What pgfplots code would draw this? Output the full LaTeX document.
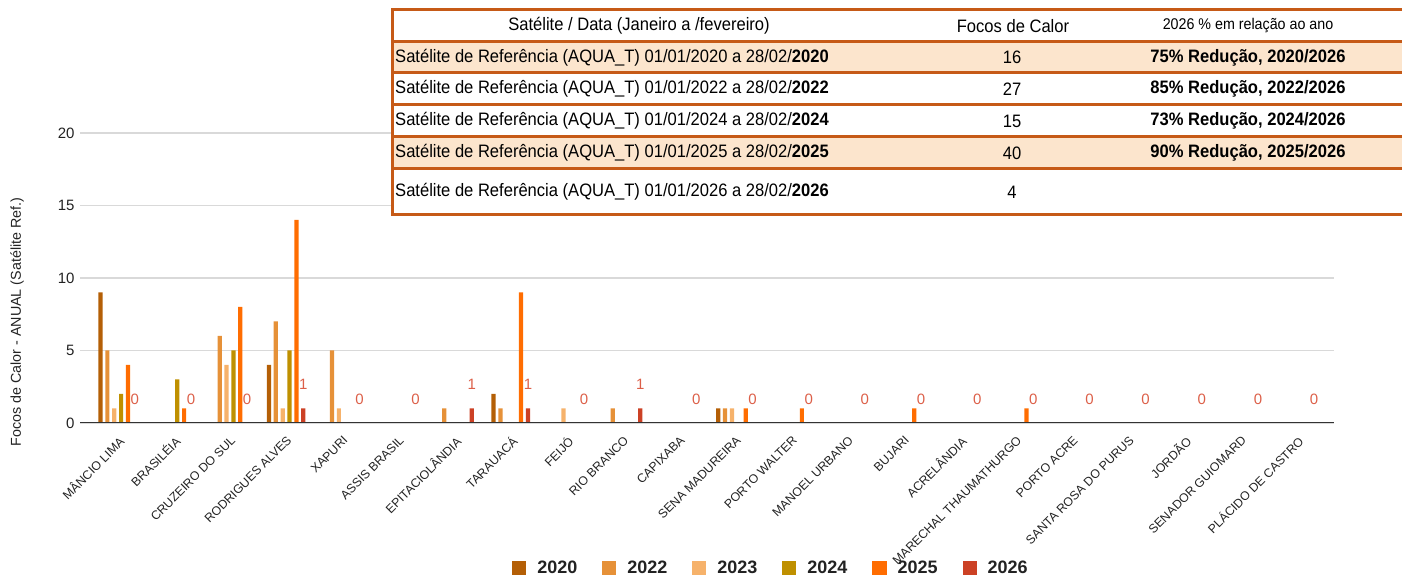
\documentclass[border=0pt]{standalone}
\usepackage{fontspec}
\setmainfont{Liberation Sans}
\newfontfamily\condfont[FakeStretch=0.92]{Liberation Sans}
\usepackage{pgfplots}
\pgfplotsset{compat=1.18}
\usepackage{pgfplotstable}

\definecolor{c20}{HTML}{B45F06}
\definecolor{c22}{HTML}{E69138}
\definecolor{c23}{HTML}{F6B26B}
\definecolor{c24}{HTML}{BF9000}
\definecolor{c25}{HTML}{FF6D01}
\definecolor{c26}{HTML}{CC4125}
\definecolor{lblred}{HTML}{DC5F48}
\definecolor{gridgray}{HTML}{D9D9D9}
\definecolor{axisgray}{HTML}{333333}
\definecolor{border}{HTML}{C65A17}
\definecolor{peach}{HTML}{FCE5CD}
\definecolor{txt}{HTML}{222222}

\pgfplotstableread{
x c20 c22 c23 c24 c25 c26
0 9 5 1 2 4 0
1 0 0 0 3 1 0
2 0 6 4 5 8 0
3 4 7 1 5 14 1
4 0 5 1 0 0 0
5 0 0 0 0 0 0
6 0 1 0 0 0 1
7 2 1 0 0 9 1
8 0 0 1 0 0 0
9 0 1 0 0 0 1
10 0 0 0 0 0 0
11 1 1 1 0 1 0
12 0 0 0 0 1 0
13 0 0 0 0 0 0
14 0 0 0 0 1 0
15 0 0 0 0 0 0
16 0 0 0 0 1 0
17 0 0 0 0 0 0
18 0 0 0 0 0 0
19 0 0 0 0 0 0
20 0 0 0 0 0 0
21 0 0 0 0 0 0
}\data

\begin{document}
\begin{tikzpicture}
\useasboundingbox (0pt,0pt) rectangle (1402pt,577pt);
\begin{axis}[
  at={(80pt,154pt)}, anchor=south west,
  scale only axis, width=1254pt, height=290pt,
  ymin=0, ymax=20, xmin=-0.671, xmax=21.66,
  ybar=2.67pt, bar width=4.2pt,
  ytick={0,5,10,15,20},
  ymajorgrids, grid style={color=gridgray, line width=1.2pt},
  axis line style={draw=none},
  major tick length=0pt,
  /pgf/number format/assume math mode=true,
  xtick={0,...,21},
  xticklabels={MÂNCIO LIMA,BRASILÉIA,CRUZEIRO DO SUL,RODRIGUES ALVES,XAPURI,ASSIS BRASIL,EPITACIOLÂNDIA,TARAUACÁ,FEIJÓ,RIO BRANCO,CAPIXABA,SENA MADUREIRA,PORTO WALTER,MANOEL URBANO,BUJARI,ACRELÂNDIA,MARECHAL THAUMATHURGO,PORTO ACRE,SANTA ROSA DO PURUS,JORDÃO,SENADOR GUIOMARD,PLÁCIDO DE CASTRO},
  xticklabel style={xshift=0pt, yshift=-12pt, rotate=45, anchor=north east, inner sep=0pt, font=\fontsize{12.3}{12.3}\selectfont, text=txt},
  yticklabel style={xshift=-2pt, font=\fontsize{15}{15}\selectfont, text=txt},
  ylabel={Focos de Calor - ANUAL (Satélite Ref.)},
  every axis y label/.style={at={(axis description cs:-0.0502,0.348)}, rotate=90, anchor=center, font=\fontsize{14.3}{14.3}\selectfont, text=txt},
  legend columns=-1,
  legend image code/.code={\fill[#1] (0pt,-7pt) rectangle (14pt,7pt);},
  legend style={draw=none, fill=none, at={(axis description cs:0.551,-0.5)}, anchor=center,
    font=\bfseries\fontsize{18}{18}\selectfont, text=txt,
    /tikz/every odd column/.append style={column sep=9pt},
    /tikz/every even column/.append style={column sep=23pt}},
]
\addplot[fill=c20, draw=none] table[x=x,y=c20]{\data};
\addplot[fill=c22, draw=none] table[x=x,y=c22]{\data};
\addplot[fill=c23, draw=none] table[x=x,y=c23]{\data};
\addplot[fill=c24, draw=none] table[x=x,y=c24]{\data};
\addplot[fill=c25, draw=none] table[x=x,y=c25]{\data};
\addplot[fill=c26, draw=none, nodes near coords,
  nodes near coords style={anchor=center, yshift=24pt, text=lblred, font=\fontsize{15}{15}\selectfont}]
  table[x=x,y=c26]{\data};
\legend{2020,2022,2023,2024,2025,2026}
\draw[axisgray, line width=1.4pt] (rel axis cs:0,0) -- (rel axis cs:1,0);
\end{axis}

\begin{scope}[shift={(0pt,577pt)}, x=1pt, y=-1pt]
  \fill[white] (392,10) rectangle (1402,215);
  \fill[peach] (392,42) rectangle (1402,73);
  \fill[peach] (392,137) rectangle (1402,169);
  \foreach \yy in {10,42,73,105,137,169,215}
    \draw[border, line width=3pt] (392,\yy) -- (1402,\yy);
  \draw[border, line width=3pt] (392.5,8.5) -- (392.5,216.5);
  \begin{scope}[every node/.style={inner sep=0pt, text=black, font=\condfont\fontsize{18}{18}\selectfont}]
    \node at (639,26) {Satélite / Data (Janeiro a /fevereiro)};
    \node at (1013,26) {Focos de Calor};
    \node[font=\condfont\fontsize{15.5}{15.5}\selectfont] at (1248,26) {2026 \% em relação ao ano};
    \node[anchor=west] at (395,57.5) {Satélite de Referência (AQUA\_T) 01/01/2020 a 28/02/\textbf{2020}};
    \node[anchor=west] at (395,89) {Satélite de Referência (AQUA\_T) 01/01/2022 a 28/02/\textbf{2022}};
    \node[anchor=west] at (395,121) {Satélite de Referência (AQUA\_T) 01/01/2024 a 28/02/\textbf{2024}};
    \node[anchor=west] at (395,153) {Satélite de Referência (AQUA\_T) 01/01/2025 a 28/02/\textbf{2025}};
    \node[anchor=west] at (395,192) {Satélite de Referência (AQUA\_T) 01/01/2026 a 28/02/\textbf{2026}};
    \node at (1012,57.5) {16};
    \node at (1012,89) {27};
    \node at (1012,121) {15};
    \node at (1012,153) {40};
    \node at (1012,192) {4};
    \node[font=\condfont\bfseries\fontsize{18}{18}\selectfont] at (1248,57.5) {75\% Redução, 2020/2026};
    \node[font=\condfont\bfseries\fontsize{18}{18}\selectfont] at (1248,89) {85\% Redução, 2022/2026};
    \node[font=\condfont\bfseries\fontsize{18}{18}\selectfont] at (1248,121) {73\% Redução, 2024/2026};
    \node[font=\condfont\bfseries\fontsize{18}{18}\selectfont] at (1248,153) {90\% Redução, 2025/2026};
  \end{scope}
\end{scope}
\end{tikzpicture}
\end{document}
